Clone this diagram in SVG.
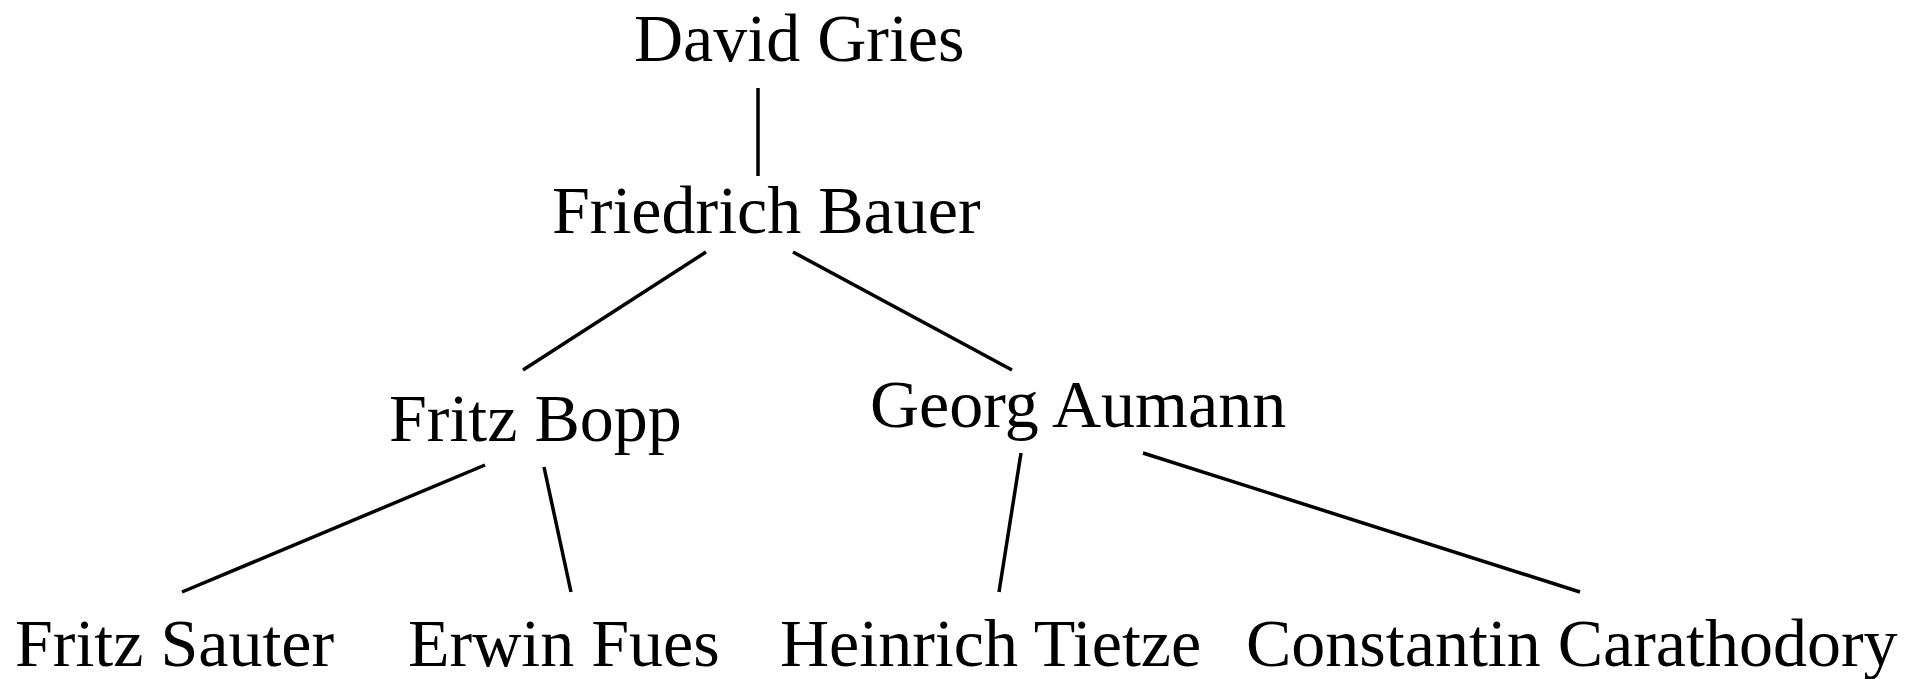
<svg xmlns="http://www.w3.org/2000/svg" width="1919" height="679" viewBox="0 0 1919 679">
  <style>
    .bg { fill: #ffffff; }
    .label { font-family: "Liberation Serif", Tinos, "Times New Roman", Times, "DejaVu Serif", serif; font-size: 68px; fill: #000000; }
    .edge { stroke: #000000; stroke-width: 3.5; stroke-linecap: butt; fill: none; }
  </style>
  <rect class="bg" x="0" y="0" width="1919" height="679"/>

  <!-- connectors between advisor and student -->
  <g id="connectors">
    <line class="edge" x1="758" y1="88" x2="758" y2="176"/>
    <line class="edge" x1="706" y1="252" x2="523" y2="370"/>
    <line class="edge" x1="793" y1="252" x2="1012" y2="370"/>
    <line class="edge" x1="485" y1="465" x2="182" y2="592"/>
    <line class="edge" x1="544" y1="467" x2="571" y2="592"/>
    <line class="edge" x1="1021" y1="453" x2="999" y2="592"/>
    <line class="edge" x1="1143" y1="453" x2="1580" y2="592"/>
  </g>

  <g id="david-gries"><text class="label" font-family="Liberation Serif, serif" x="634" y="61">David Gries</text></g>
  <g id="friedrich-bauer"><text class="label" x="552" y="233">Friedrich Bauer</text></g>
  <g id="fritz-bopp"><text class="label" x="389" y="441">Fritz Bopp</text></g>
  <g id="georg-aumann"><text class="label" x="870" y="427">Georg Aumann</text></g>
  <g id="fritz-sauter"><text class="label" x="15" y="666">Fritz Sauter</text></g>
  <g id="erwin-fues"><text class="label" x="408" y="666">Erwin Fues</text></g>
  <g id="heinrich-tietze"><text class="label" x="780" y="666">Heinrich Tietze</text></g>
  <g id="constantin-carathodory"><text class="label" x="1246" y="666">Constantin Carathodory</text></g>
</svg>
